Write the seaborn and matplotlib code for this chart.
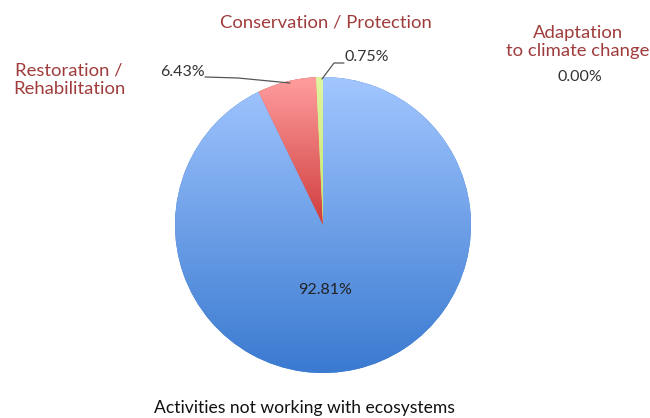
import numpy as np
import matplotlib
matplotlib.use("Agg")
import matplotlib.pyplot as plt
import seaborn as sns
from matplotlib.colors import LinearSegmentedColormap

categories = ["Activities not working with ecosystems", "Restoration /\nRehabilitation",
              "Conservation / Protection", "Adaptation\nto climate change"]
values = [92.81, 6.43, 0.75, 0.00]
pct_labels = ["92.81%", "6.43%", "0.75%", "0.00%"]

sns.set_theme(style="white")
plt.rcParams['font.family'] = ['Lato', 'DejaVu Sans']

W, H = 650, 418
fig = plt.figure(figsize=(6.5, 4.18), dpi=100)
ax = fig.add_axes([0, 0, 1, 1])
ax.set_xlim(0, W)
ax.set_ylim(0, H)
ax.axis("off")

cx, cy, r = 323, 418 - 225, 148
grad = [("#a2c6ff", "#3a7ad0"), ("#ff9e9e", "#cf3c3c"), ("#e0f5a0", "#c8e46c"), ("#ffffff", "#ffffff")]

wedges, _ = ax.pie(values, startangle=90, counterclock=False, center=(cx, cy), radius=r,
                   colors=[g[1] for g in grad], wedgeprops=dict(linewidth=0))
ax.set_xlim(0, W)
ax.set_ylim(0, H)
ax.set_aspect("equal")

for w, (c0, c1) in zip(wedges, grad):
    if w.theta2 - w.theta1 <= 0:
        continue
    bb = w.get_path().get_extents(w.get_patch_transform())
    cmap = LinearSegmentedColormap.from_list("g", [c1, c0])
    img = np.linspace(0, 1, 256).reshape(-1, 1)
    im = ax.imshow(img, cmap=cmap, extent=[bb.x0, bb.x1, bb.y0, bb.y1], origin="lower",
                   aspect="auto", zorder=w.get_zorder() + 0.1)
    im.set_clip_path(w)

red = "#a03c3c"
fs_cat = 13.3
fs_pct = 11.5
# labels
ax.text(325, 418 - 290, pct_labels[0], ha="center", va="center", fontsize=fs_pct, color="#222222", zorder=5)
ax.text(304, 418 - 408, categories[0], ha="center", va="center", fontsize=12.6, color="#111111")

# Restoration
ax.text(69, 418 - 80, categories[1], ha="center", va="center", fontsize=fs_cat, color=red, linespacing=1.2)
ax.text(182, 418 - 72, pct_labels[1], ha="center", va="center", fontsize=fs_pct, color="#333333")
ax.plot([205, 238, 290], [418 - 77, 418 - 78, 418 - 83], color="#555555", lw=0.9, zorder=6)

# Conservation
ax.text(326, 418 - 22, categories[2], ha="center", va="center", fontsize=fs_cat, color=red)
ax.text(367, 418 - 57, pct_labels[2], ha="center", va="center", fontsize=fs_pct, color="#333333")
ax.plot([322, 334, 344], [418 - 79, 418 - 63, 418 - 63], color="#555555", lw=0.9, zorder=6)

# Adaptation
ax.text(578, 418 - 42, categories[3], ha="center", va="center", fontsize=fs_cat, color=red, linespacing=1.2)
ax.text(580, 418 - 77, pct_labels[3], ha="center", va="center", fontsize=fs_pct, color="#333333")

fig.savefig("out.png", dpi=100)
